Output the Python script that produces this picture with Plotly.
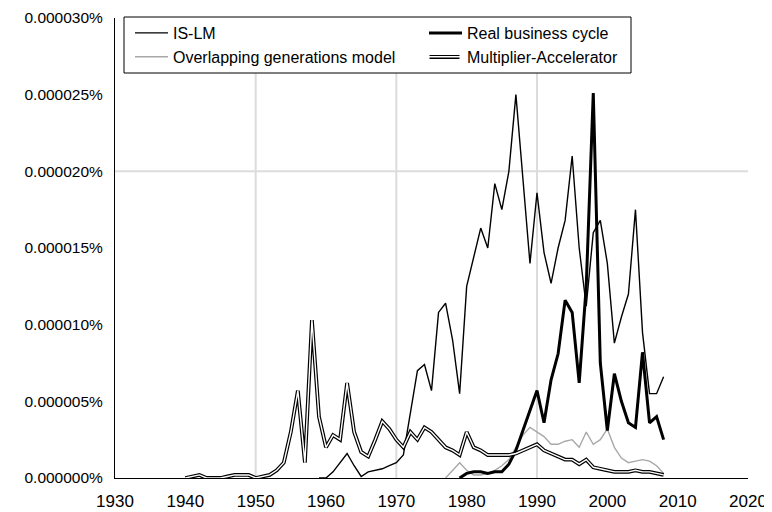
import plotly.graph_objects as go

# ---------------- data (values in percent) ----------------
islm_years = list(range(1959, 2009))
islm_vals = [0, 0, 0.0000004, 0.000001, 0.0000016, 0.0000008, 0.0000001, 0.0000004, 0.0000005, 0.0000006,
             0.0000008, 0.000001, 0.0000015, 0.0000042, 0.000007, 0.0000074, 0.0000057, 0.0000108, 0.0000114, 0.000009,
             0.0000055, 0.0000125, 0.0000145, 0.0000163, 0.000015, 0.0000192, 0.0000175, 0.00002, 0.000025, 0.0000195,
             0.000014, 0.0000186, 0.0000147, 0.0000127, 0.000015, 0.0000168, 0.000021, 0.000015, 0.0000112, 0.000016,
             0.0000168, 0.000014, 0.0000088, 0.0000105, 0.000012, 0.0000175, 0.0000095, 0.0000055, 0.0000055, 0.0000066]

rbc_years = list(range(1979, 2009))
rbc_vals = [0, 0.0000003, 0.0000004, 0.0000004, 0.0000003, 0.0000004, 0.0000004, 0.0000009, 0.0000018, 0.0000031,
            0.0000045, 0.0000057, 0.0000036, 0.0000064, 0.0000081, 0.0000116, 0.0000108, 0.0000062, 0.0000125, 0.0000251,
            0.0000075, 0.0000031, 0.0000068, 0.000005, 0.0000036, 0.0000033, 0.0000082, 0.0000036, 0.000004, 0.0000025]

olg_years = list(range(1977, 2009))
olg_vals = [0, 0.0000005, 0.000001, 0.0000005, 0.0000002, 0.0000002, 0.0000003, 0.0000005, 0.0000008, 0.0000012,
            0.000002, 0.0000028, 0.0000033, 0.000003, 0.0000027, 0.0000022, 0.0000022, 0.0000024, 0.0000025, 0.000002,
            0.000003, 0.0000022, 0.0000025, 0.0000032, 0.000002, 0.0000013, 0.000001, 0.0000011, 0.0000012, 0.0000011,
            0.0000008, 0.0000003]

ma_years = list(range(1940, 2009))
ma_vals = [0, 0.0000001, 0.0000002, 0, 0, 0, 0.0000001, 0.0000002, 0.0000002, 0.0000002,
           0, 0.0000001, 0.0000002, 0.0000005, 0.000001, 0.000003, 0.0000057, 0.000001, 0.0000103, 0.000004,
           0.000002, 0.0000028, 0.0000025, 0.0000062, 0.000003, 0.0000017, 0.0000014, 0.0000025, 0.0000037, 0.0000032,
           0.0000025, 0.000002, 0.000003, 0.0000025, 0.0000033, 0.000003, 0.0000025, 0.000002, 0.0000018, 0.0000015,
           0.000003, 0.000002, 0.0000018, 0.0000015, 0.0000015, 0.0000015, 0.0000015, 0.0000016, 0.0000018, 0.000002,
           0.0000022, 0.0000018, 0.0000016, 0.0000014, 0.0000012, 0.0000012, 0.0000009, 0.0000012, 0.0000007, 0.0000006,
           0.0000005, 0.0000004, 0.0000004, 0.0000004, 0.0000005, 0.0000004, 0.0000004, 0.0000003, 0.0000002]

x_ticks = list(range(1930, 2021, 10))
y_ticks = [0, 0.000005, 0.00001, 0.000015, 0.00002, 0.000025, 0.00003]
y_ticktext = ["0.000000%", "0.000005%", "0.000010%", "0.000015%", "0.000020%", "0.000025%", "0.000030%"]

FONT = "Liberation Sans, Arial, Helvetica, sans-serif"

fig = go.Figure()
fig.add_trace(go.Scatter(x=islm_years, y=islm_vals, mode="lines", name="IS-LM",
                         line=dict(color="black", width=1.4), legendrank=1))
fig.add_trace(go.Scatter(x=olg_years, y=olg_vals, mode="lines", name="Overlapping generations model",
                         line=dict(color="#a8a8a8", width=1.4), legendrank=3))
fig.add_trace(go.Scatter(x=rbc_years, y=rbc_vals, mode="lines", name="Real business cycle",
                         line=dict(color="black", width=3), legendrank=2))
fig.add_trace(go.Scatter(x=ma_years, y=ma_vals, mode="lines", name="Multiplier-Accelerator",
                         line=dict(color="black", width=3.8), showlegend=False))
fig.add_trace(go.Scatter(x=ma_years, y=ma_vals, mode="lines", name="Multiplier-Accelerator",
                         line=dict(color="white", width=1.4), legendrank=4))

# page body adds an 8 px offset; layout is computed in screen pixels
OFF = 8
W, H = 772, 512
ml, mr, mt, mb = 107, 32, 10, 42
pw, ph = W - ml - mr, H - mt - mb


def px_x(s):
    return (s - OFF - ml) / pw


def px_y(s):
    return (H - mb - (s - OFF)) / ph


shapes = []
for gx in [1950, 1970, 1990]:
    shapes.append(dict(type="line", xref="x", yref="paper", x0=gx, x1=gx, y0=0, y1=1,
                       line=dict(color="#dcdcdc", width=2), layer="below"))
shapes.append(dict(type="line", xref="paper", yref="y", x0=0, x1=1, y0=0.00002, y1=0.00002,
                   line=dict(color="#dcdcdc", width=2), layer="below"))
# legend frame / background
shapes.append(dict(type="rect", xref="paper", yref="paper", x0=px_x(124), x1=px_x(631),
                   y0=px_y(73), y1=px_y(17), fillcolor="white", line=dict(color="black", width=1),
                   layer="above"))

fig.update_layout(
    width=W, height=H,
    margin=dict(l=ml, r=mr, t=mt, b=mb, autoexpand=False),
    paper_bgcolor="white", plot_bgcolor="white",
    font=dict(family=FONT, color="black"),
    showlegend=True,
    legend=dict(orientation="h", x=px_x(130), y=px_y(16), xanchor="left", yanchor="top",
                bgcolor="rgba(0,0,0,0)", borderwidth=0,
                font=dict(size=16, family=FONT), itemwidth=33,
                entrywidth=246, entrywidthmode="pixels",
                traceorder="normal", tracegroupgap=0),
    shapes=shapes,
    xaxis=dict(range=[1930, 2020], tickvals=x_ticks, ticktext=[str(t) for t in x_ticks],
               showgrid=False, zeroline=False, showline=True, linecolor="black", linewidth=1,
               ticks="", tickfont=dict(size=17), ticklabelstandoff=8, automargin=False),
    yaxis=dict(range=[0, 0.00003], tickvals=y_ticks, ticktext=y_ticktext,
               showgrid=False, zeroline=False, showline=True, linecolor="black", linewidth=1,
               ticks="", tickfont=dict(size=15.5), ticklabelstandoff=8, automargin=False),
)

# outer (black) part of the double-line legend sample, under the white legend line
fig.add_shape(type="line", xref="paper", yref="paper", x0=px_x(429.5), x1=px_x(459.5),
              y0=px_y(57), y1=px_y(57), line=dict(color="black", width=4), layer="above")

fig.write_html("out.html")
